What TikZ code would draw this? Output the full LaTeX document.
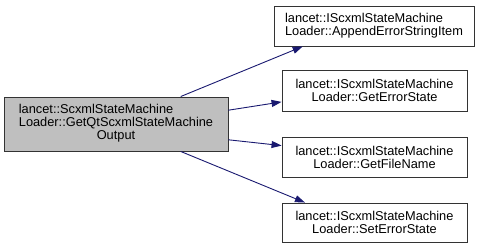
\documentclass[tikz,border=0pt]{standalone}
\usepackage{fontspec}
\setmainfont{Liberation Sans}
\usetikzlibrary{arrows.meta}
\definecolor{edgeblue}{HTML}{191970}
\definecolor{boxgray}{HTML}{BFBFBF}

\begin{document}
\begin{tikzpicture}[x=1pt, y=-1pt,
  fnbox/.style={draw=black!80, line width=0.9pt, rectangle, inner sep=0pt,
    font=\fontsize{12.8}{13}\selectfont},
  call/.style={draw=edgeblue, line width=0.9pt,
    -{Triangle[length=10pt, width=7pt]}}]
\useasboundingbox (0,0) rectangle (480,248);

% Caller
\node[fnbox, fill=boxgray, minimum width=224pt, minimum height=54pt] (loader) at (116,124)
  {\begin{tabular}{@{}l@{}}lancet::ScxmlStateMachine\\Loader::GetQtScxmlStateMachine\\\multicolumn{1}{@{}c@{}}{Output}\end{tabular}};

% Callees
\node[fnbox, fill=white, align=left, minimum width=200pt, minimum height=40pt] (append) at (374,26)
  {lancet::IScxmlStateMachine\\Loader::AppendErrorStringItem};
\node[fnbox, fill=white, align=center, minimum width=185pt, minimum height=41pt] (geterr) at (374.5,90.5)
  {lancet::IScxmlStateMachine\\Loader::GetErrorState};
\node[fnbox, fill=white, align=center, minimum width=185pt, minimum height=40pt] (getfile) at (374.5,157)
  {lancet::IScxmlStateMachine\\Loader::GetFileName};
\node[fnbox, fill=white, align=center, minimum width=185pt, minimum height=39pt] (seterr) at (374.5,222.5)
  {lancet::IScxmlStateMachine\\Loader::SetErrorState};

% Calls
\draw[call] (loader.23.5) -- (append.196.9);
\draw[call] (loader.7.7) -- (geterr.187);
\draw[call] (loader.352.8) -- (getfile.173.2);
\draw[call] (loader.337) -- (seterr.164.7);
\end{tikzpicture}
\end{document}
